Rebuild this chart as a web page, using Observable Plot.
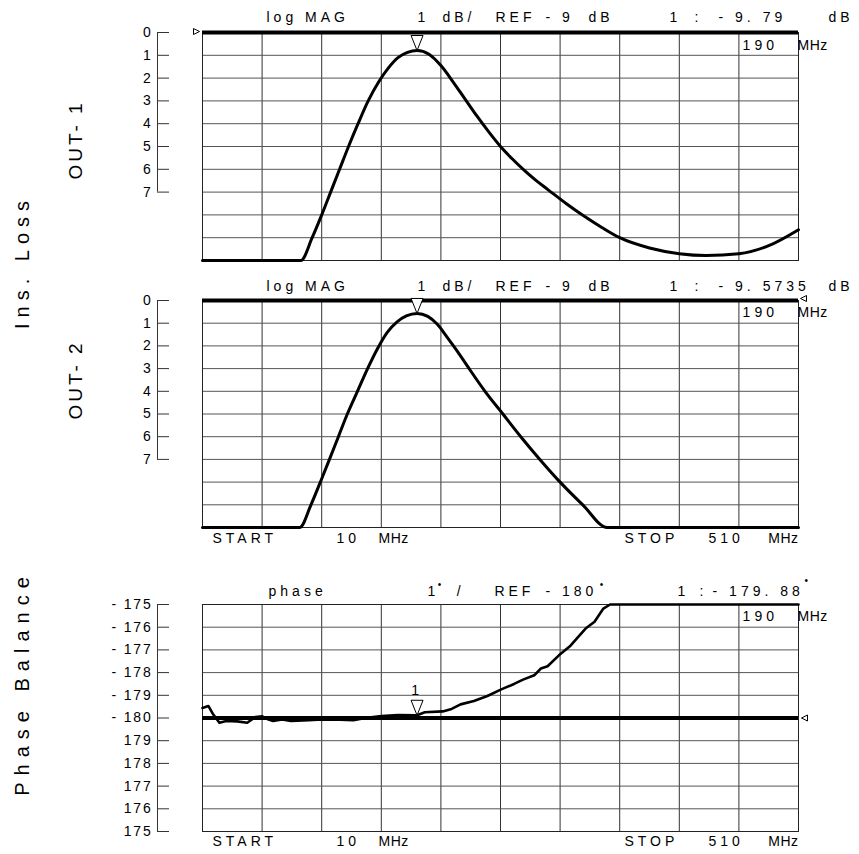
<!DOCTYPE html>
<html><head><meta charset="utf-8">
<script src="https://cdn.jsdelivr.net/npm/d3@7"></script>
<script src="https://cdn.jsdelivr.net/npm/@observablehq/plot@0.6"></script>
<style>
body{margin:0;background:#fff;}
#wrap{position:relative;width:859px;height:854px;overflow:hidden;font-family:"Liberation Sans",Arial,sans-serif;background:#fff;}
.panel{position:absolute;left:0;}
.side{position:absolute;white-space:pre;transform:translate(-50%,-50%) rotate(-90deg);color:#000;line-height:1;}
</style></head><body><div id="wrap"></div>
<script>
// ---------- data ----------
const freqOut1 = [10, 92.5, 102, 110, 117.5, 125, 132.5, 140.5, 149, 158, 166, 174, 182, 190, 200, 210, 220, 230, 240, 250, 260, 270, 280, 290, 300, 315, 330, 345, 360, 385, 410, 432.5, 460, 485, 510];
const lossOut1 = [10, 10, 9, 8, 7, 6, 5, 4, 3, 2.15, 1.55, 1.1, 0.87, 0.79, 0.95, 1.45, 2.15, 2.9, 3.65, 4.35, 5.0, 5.55, 6.05, 6.5, 6.9, 7.5, 8.05, 8.55, 9.0, 9.45, 9.7, 9.78, 9.7, 9.35, 8.65];
const freqOut2 = [10, 91.5, 101, 110, 116.5, 124, 131.5, 140, 148.5, 157, 165, 173, 181, 190, 199, 207, 215, 224, 233, 247, 262, 277, 293, 310, 329, 349.5, 510];
const lossOut2 = [10, 10, 9, 7.85, 7, 6, 5, 4, 3, 2.1, 1.4, 0.95, 0.68, 0.57, 0.7, 1.05, 1.6, 2.25, 2.95, 4.0, 5.0, 6.0, 7.0, 8.0, 9.0, 10, 10];
const freqPhase = [10, 14.9, 18.6, 24.2, 29.9, 39.2, 47.5, 54.2, 60.2, 65.4, 69.2, 76.7, 84.2, 99.1, 110.4, 125.4, 136.6, 147.8, 160.2, 174, 190, 196.5, 211.5, 219, 226.5, 237.7, 249, 260.2, 271.4, 278.9, 288.3, 293.9, 299.5, 309, 318.2, 323.9, 331.4, 338.9, 346.3, 351.9, 510];
const phaseBal = [-179.56, -179.47, -179.81, -180.21, -180.13, -180.15, -180.21, -179.96, -179.93, -180.07, -180.13, -180.06, -180.13, -180.1, -180.06, -180.07, -180.1, -179.99, -179.91, -179.87, -179.88, -179.75, -179.71, -179.6, -179.4, -179.25, -179.03, -178.75, -178.5, -178.31, -178.12, -177.82, -177.72, -177.24, -176.84, -176.5, -176.06, -175.76, -175.18, -175, -175];

const lossTicks = [0, 1, 2, 3, 4, 5, 6, 7];
const lossTickLabels = ["0", "1", "2", "3", "4", "5", "6", "7"];
const phaseTicks = [-175, -176, -177, -178, -179, -180, -181, -182, -183, -184, -185];
const phaseTickLabels = ["- 175", "- 176", "- 177", "- 178", "- 179", "- 180", "179", "178", "177", "176", "175"];

const startMHz = 10, stopMHz = 510, markerMHz = 190;
const markerOut1 = 0.79, markerOut2 = 0.57, markerPhase = -179.88;
const readOut1 = "- 9. 79", readOut2 = "- 9. 5735", readPhase = "- 179. 88";

// ---------- helpers ----------
const FONT = '"Liberation Sans", Arial, sans-serif';
const xGrid = d3.range(startMHz, stopMHz + 1, 50);
const markerSym = {draw(c){ c.moveTo(0,0); c.lineTo(-6,-15); c.lineTo(6,-15); c.closePath(); }};
const refRight = {draw(c){ c.moveTo(-3,-3); c.lineTo(3,0); c.lineTo(-3,3); c.closePath(); }};
const refLeft  = {draw(c){ c.moveTo(3,-3); c.lineTo(-3,0); c.lineTo(3,3); c.closePath(); }};

function textMarks(texts){
  return ["start","middle","end"].map(a => Plot.text(texts.filter(d => d.a === a), {
    x: "x", y: "y", text: "t", textAnchor: a, fontSize: d => d.fs || 14, fill: "#000"
  }));
}

function panel({top, height, marginTop, marginBottom, yScale, gridY, ticks, tickFmt, axisEnd, refY, series, sw, curve, marks}){
  const svg = Plot.plot({
    width: 859, height, marginLeft: 202, marginRight: 61, marginTop, marginBottom,
    style: {fontFamily: FONT, fontSize: "14px", letterSpacing: "4px", whiteSpace: "pre", background: "transparent", overflow: "visible"},
    x: {domain: [startMHz, stopMHz], axis: null},
    y: {...yScale, axis: null},
    marks: [
      Plot.gridX(xGrid, {stroke: "#333", strokeOpacity: 1}),
      Plot.gridY(gridY, {stroke: "#555", strokeOpacity: 1}),
      Plot.frame({stroke: "#222"}),
      Plot.ruleX([startMHz], {y1: ticks[0], y2: axisEnd, dx: -45, stroke: "#333"}),
      Plot.axisY(ticks, {anchor: "left", tickSize: 12, dx: -33, tickPadding: 5, label: null, fontSize: 14, tickFormat: tickFmt, stroke: "#333"}),
      Plot.ruleY([refY], {stroke: "#000", strokeWidth: 4}),
      Plot.line(series, {x: "f", y: "v", stroke: "#000", strokeWidth: sw, curve}),
      ...marks
    ]
  });
  const s = d3.select(svg);
  s.selectAll("text").filter(function(){ return this.textContent === "MHz"; }).style("letter-spacing", "0.5px");
  s.selectAll('g[aria-label="y-axis tick label"] text').style("letter-spacing", "1.8px");
  const div = document.createElement("div");
  div.className = "panel"; div.style.top = top + "px";
  div.appendChild(svg);
  document.getElementById("wrap").appendChild(div);
}

const s1 = freqOut1.map((f, i) => ({f, v: lossOut1[i]}));
const s2 = freqOut2.map((f, i) => ({f, v: lossOut2[i]}));
const s3 = freqPhase.map((f, i) => ({f, v: phaseBal[i]}));

function magTitle(y, readout){
  return [
    {x: 63.7, y, t: "log MAG", a: "start"},
    {x: 190.4, y, t: "1", a: "start"},
    {x: 211.3, y, t: "dB/", a: "start"},
    {x: 255.8, y, t: "REF", a: "start"},
    {x: 297.7, y, t: "- 9", a: "start"},
    {x: 333.8, y, t: "dB", a: "start"},
    {x: 401.8, y, t: "1", a: "start"},
    {x: 422.8, y, t: ":", a: "start"},
    {x: 442.9, y, t: readout, a: "start"},
    {x: 535.2, y, t: "dB", a: "start"}
  ];
}
function startStop(y){
  return [
    {x: 18.4, y, t: "START", a: "start"},
    {x: 122.4, y, t: "10", a: "start"},
    {x: 157.7, y, t: "MHz", a: "start"},
    {x: 364.0, y, t: "STOP", a: "start"},
    {x: 434.4, y, t: "510", a: "start"},
    {x: 510, y, t: "MHz", a: "end"}
  ];
}

// ---------- panel 1 ----------
panel({
  top: 0, height: 270, marginTop: 32, marginBottom: 10,
  yScale: {domain: [10, 0]}, gridY: d3.range(0, 11), ticks: lossTicks,
  tickFmt: (d) => lossTickLabels[lossTicks.indexOf(d)], axisEnd: 7, refY: 0,
  series: s1, sw: 3, curve: "monotone-x",
  marks: [
    ...textMarks([
      ...magTitle(-0.64, readOut1),
      {x: 463.1, y: 0.55, t: "190", a: "start"},
      {x: 509.2, y: 0.55, t: "MHz", a: "start"}
    ]),
    Plot.dot([{f: markerMHz, v: markerOut1}], {x: "f", y: "v", symbol: markerSym, fill: "white", stroke: "#000", strokeWidth: 1, r: 5}),
    Plot.dot([{f: startMHz, v: 0}], {x: "f", y: "v", symbol: refRight, fill: "white", stroke: "#000", strokeWidth: 1, r: 3, dx: -6, dy: -1})
  ]
});

// ---------- panel 2 ----------
panel({
  top: 270, height: 285, marginTop: 30, marginBottom: 28,
  yScale: {domain: [10, 0]}, gridY: d3.range(0, 11), ticks: lossTicks,
  tickFmt: (d) => lossTickLabels[lossTicks.indexOf(d)], axisEnd: 7, refY: 0,
  series: s2, sw: 3, curve: "monotone-x",
  marks: [
    ...textMarks([
      ...magTitle(-0.62, readOut2),
      {x: 463.1, y: 0.55, t: "190", a: "start"},
      {x: 509.2, y: 0.55, t: "MHz", a: "start"},
      ...startStop(10.5)
    ]),
    Plot.dot([{f: markerMHz, v: markerOut2}], {x: "f", y: "v", symbol: markerSym, fill: "white", stroke: "#000", strokeWidth: 1, r: 5}),
    Plot.dot([{f: stopMHz, v: 0}], {x: "f", y: "v", symbol: refLeft, fill: "white", stroke: "#000", strokeWidth: 1, r: 3, dx: 5, dy: -2})
  ]
});

// ---------- panel 3 ----------
panel({
  top: 555, height: 299, marginTop: 49, marginBottom: 23,
  yScale: {domain: [-185, -175]}, gridY: d3.range(-185, -174), ticks: phaseTicks,
  tickFmt: (d) => phaseTickLabels[phaseTicks.indexOf(d)], axisEnd: -185, refY: -180,
  series: s3, sw: 2.6, curve: "linear",
  marks: [
    ...textMarks([
      {x: 65.4, y: -174.43, t: "phase", a: "start"},
      {x: 198.8, y: -174.43, t: "1", a: "start"},
      {x: 210.5, y: -174.15, t: "•", a: "middle", fs: 10},
      {x: 226.5, y: -174.43, t: "/", a: "middle"},
      {x: 254.9, y: -174.43, t: "REF", a: "start"},
      {x: 297.7, y: -174.43, t: "- 180", a: "start"},
      {x: 346.4, y: -174.15, t: "•", a: "middle", fs: 10},
      {x: 408.5, y: -174.43, t: "1", a: "start"},
      {x: 426.9, y: -174.43, t: ":", a: "start"},
      {x: 437.9, y: -174.43, t: readPhase, a: "start"},
      {x: 518.2, y: -173.95, t: "•", a: "middle", fs: 10},
      {x: 463.1, y: -175.55, t: "190", a: "start"},
      {x: 509.2, y: -175.55, t: "MHz", a: "start"},
      {x: markerMHz, y: markerPhase + 1.07, t: "1", a: "middle"},
      ...startStop(-185.45)
    ]),
    Plot.dot([{f: markerMHz, v: markerPhase}], {x: "f", y: "v", symbol: markerSym, fill: "white", stroke: "#000", strokeWidth: 1, r: 5}),
    Plot.dot([{f: stopMHz, v: -180}], {x: "f", y: "v", symbol: refLeft, fill: "white", stroke: "#000", strokeWidth: 1, r: 3, dx: 6})
  ]
});

// ---------- side labels ----------
const sideLabels = [
  {t: "Ins. Loss", x: 22, y: 262, fs: 20, ls: 6},
  {t: "OUT- 1", x: 75, y: 140, fs: 19, ls: 3},
  {t: "OUT- 2", x: 75, y: 380, fs: 19, ls: 3},
  {t: "Phase Balance", x: 22, y: 683, fs: 20, ls: 7}
];
for (const s of sideLabels) {
  const d = document.createElement("div");
  d.className = "side";
  d.textContent = s.t;
  d.style.left = s.x + "px"; d.style.top = s.y + "px";
  d.style.fontSize = s.fs + "px"; d.style.letterSpacing = s.ls + "px";
  document.getElementById("wrap").appendChild(d);
}
</script></body></html>
